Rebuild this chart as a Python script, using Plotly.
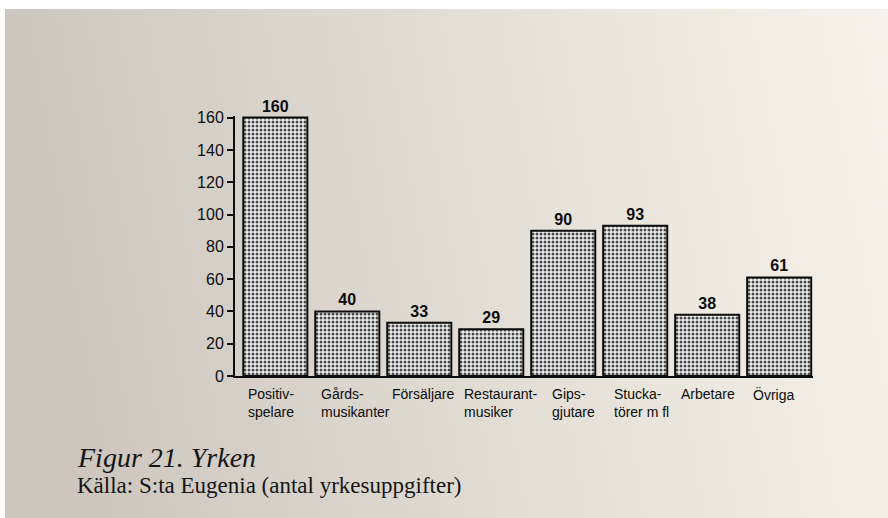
import base64
import plotly.graph_objects as go

categories = ["Positiv-<br>spelare", "Gårds-<br>musikanter", "Försäljare", "Restaurant-<br>musiker",
              "Gips-<br>gjutare", "Stucka-<br>törer m fl", "Arbetare", "Övriga"]
values = [160, 40, 33, 29, 90, 93, 38, 61]
y_ticks = [0, 20, 40, 60, 80, 100, 120, 140, 160]
caption_title = "Figur 21. Yrken"
caption_source = "Källa: S:ta Eugenia (antal yrkesuppgifter)"

# style: horizontal pixel shift of each category label block from its bar centre
label_shift = [-29, -28, -29, -29, -13, -23, -28, -28]

W, H = 888, 518
L, T = 235, 116
R = W - 813
B = H - 376
pw, ph = W - L - R, H - T - B

svg = f'''<svg xmlns="http://www.w3.org/2000/svg" width="{W}" height="{H}" viewBox="0 0 {W} {H}" preserveAspectRatio="none">
<defs><linearGradient id="g" x1="0" y1="0.1" x2="1" y2="0">
<stop offset="0" stop-color="#ccc6be"/>
<stop offset="0.35" stop-color="#dbd6ce"/>
<stop offset="0.7" stop-color="#ebe7df"/>
<stop offset="1" stop-color="#f7f3ec"/>
</linearGradient></defs>
<rect x="0" y="0" width="{W}" height="{H}" fill="url(#g)"/>
<rect x="0" y="0" width="{W}" height="9" fill="#ffffff"/>
<rect x="0" y="0" width="5" height="{H}" fill="#ffffff"/>
</svg>'''
src = "data:image/svg+xml;base64," + base64.b64encode(svg.encode()).decode()

ink = "#0d0d0d"

fig = go.Figure()
fig.add_trace(go.Bar(
    x=categories, y=values,
    text=[str(v) for v in values],
    textposition="outside",
    cliponaxis=False,
    textfont=dict(family="Liberation Sans, Arial, sans-serif", size=16, color=ink, weight="bold"),
    marker=dict(
        color="#d8d8d8",
        line=dict(color=ink, width=2),
        pattern=dict(shape=".", size=4, solidity=0.45, fgcolor="#4a4a4a", bgcolor="#f0f0f0", fillmode="replace"),
    ),
    hoverinfo="skip",
))

# category labels: left-aligned multi-line blocks under each bar
cat_annotations = [
    dict(text=c, x=c, y=0, xref="x", yref="y", xanchor="left", yanchor="top",
         xshift=s, yshift=-8, align="left", showarrow=False,
         font=dict(family="Liberation Sans, Arial, sans-serif", size=14, color=ink))
    for c, s in zip(categories, label_shift)
]

fig.update_layout(
    width=W, height=H,
    margin=dict(l=L, r=R, t=T, b=B),
    paper_bgcolor="#e3dfd8",
    plot_bgcolor="rgba(0,0,0,0)",
    bargap=0.11,
    showlegend=False,
    font=dict(family="Liberation Sans, Arial, sans-serif", color=ink),
    images=[dict(source=src, xref="paper", yref="paper",
                 x=-L / pw, y=1 + T / ph, sizex=W / pw, sizey=H / ph,
                 xanchor="left", yanchor="top", sizing="stretch", layer="below")],
    xaxis=dict(
        type="category",
        range=[-0.56, 7.47],
        showline=True, linecolor=ink, linewidth=2,
        ticks="", showgrid=False, zeroline=False,
        showticklabels=False,
    ),
    yaxis=dict(
        range=[0, 161],
        tickvals=y_ticks,
        showline=True, linecolor=ink, linewidth=2,
        ticks="outside", ticklen=6, tickwidth=2, tickcolor=ink,
        showgrid=False, zeroline=False,
        tickfont=dict(size=16, color=ink),
    ),
    annotations=cat_annotations + [
        dict(text=caption_title, xref="paper", yref="paper",
             x=(75 - L) / pw, y=(376 - 457) / ph, xanchor="left", yanchor="middle",
             showarrow=False, font=dict(family="Liberation Serif, serif", size=28, color="#151515", style="italic")),
        dict(text=caption_source, xref="paper", yref="paper",
             x=(75 - L) / pw, y=(376 - 485) / ph, xanchor="left", yanchor="middle",
             showarrow=False, font=dict(family="Liberation Serif, serif", size=23, color="#151515")),
    ],
)

fig.write_html("out.html", config={"displayModeBar": False},
               post_script="document.body.style.margin='0';document.body.style.overflow='hidden';")
